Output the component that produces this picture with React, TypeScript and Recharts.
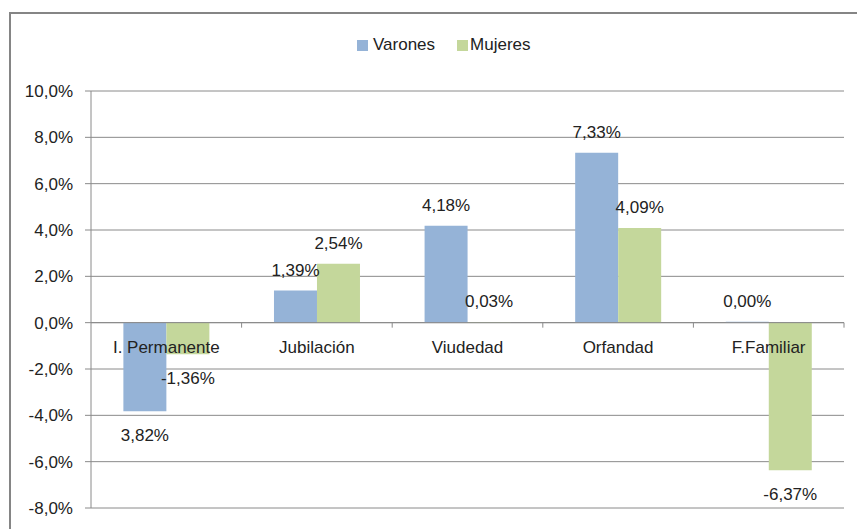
import { Bar, BarChart, CartesianGrid, LabelList, ReferenceLine, XAxis, YAxis } from "recharts";

const categories = ["I. Permanente", "Jubilación", "Viudedad", "Orfandad", "F.Familiar"];
const varones = [-3.82, 1.39, 4.18, 7.33, 0.0];
const mujeres = [-1.36, 2.54, 0.03, 4.09, -6.37];
// data labels as printed on the chart
const varonesLabels = ["3,82%", "1,39%", "4,18%", "7,33%", "0,00%"];
const mujeresLabels = ["-1,36%", "2,54%", "0,03%", "4,09%", "-6,37%"];
const yTicks = [-8, -6, -4, -2, 0, 2, 4, 6, 8, 10];
const seriesNames = ["Varones", "Mujeres"];

const BLUE = "#95B3D7";
const GREEN = "#C4D79B";
const GRID = "#8a8a8a";
const TEXT = "#222";
const FONT = "'Liberation Sans', Arial, sans-serif";

const data = categories.map((name, i) => ({
  name,
  varones: varones[i],
  mujeres: mujeres[i],
  vLabel: varonesLabels[i],
  mLabel: mujeresLabels[i],
}));

const fmtTick = (v: number) => `${v.toFixed(1).replace(".", ",")}%`;

const makeLabel = (values: number[]) => (props: any) => {
  const { x, y, width, height, value, index } = props;
  const top = Math.min(y, y + height);
  const bottom = Math.max(y, y + height);
  const neg = values[index] < 0;
  return (
    <text
      x={x + width / 2}
      y={neg ? bottom + 24 : top - 20}
      textAnchor="middle"
      dominantBaseline="central"
      fill={TEXT}
      fontSize={17}
      fontFamily={FONT}
    >
      {value}
    </text>
  );
};

// category names and boundary ticks drawn along the zero line
const ZeroAxis = (props: any) => {
  const { viewBox } = props;
  const { x, y, width } = viewBox;
  const band = width / categories.length;
  return (
    <g>
      {categories.map((_, i) => (
        <line key={`t${i}`} x1={x + band * (i + 1)} x2={x + band * (i + 1)} y1={y} y2={y + 5} stroke={GRID} />
      ))}
      {categories.map((c, i) => (
        <text
          key={c}
          x={x + band * (i + 0.5)}
          y={y + 25}
          textAnchor="middle"
          dominantBaseline="central"
          fill={TEXT}
          fontSize={17}
          fontFamily={FONT}
        >
          {c}
        </text>
      ))}
    </g>
  );
};

const LegendBox = () => (
  <div
    style={{
      position: "absolute",
      left: 349,
      top: 27,
      display: "flex",
      fontFamily: FONT,
      fontSize: 17,
      color: TEXT,
      lineHeight: "20px",
    }}
  >
    <span style={{ display: "flex", alignItems: "center", marginRight: 22 }}>
      <span style={{ width: 11, height: 11, background: BLUE, marginRight: 5 }} />
      {seriesNames[0]}
    </span>
    <span style={{ display: "flex", alignItems: "center" }}>
      <span style={{ width: 11, height: 11, background: GREEN, marginRight: 2 }} />
      {seriesNames[1]}
    </span>
  </div>
);

export default function App() {
  return (
    <div style={{ position: "relative", width: 857, height: 521 }}>
      <div
        style={{
          position: "absolute",
          left: 1,
          top: 4,
          width: 856,
          height: 517,
          borderTop: "2px solid #858585",
          borderLeft: "2px solid #858585",
          boxSizing: "border-box",
        }}
      />
      <LegendBox />
      <div style={{ position: "absolute", left: 0, top: 0 }}>
        <BarChart
          width={857}
          height={521}
          data={data}
          margin={{ top: 83, right: 21, bottom: 21, left: 13 }}
          barCategoryGap="21.5%"
          barGap={0}
        >
          <CartesianGrid vertical={false} stroke={GRID} />
          <XAxis dataKey="name" hide />
          <YAxis
            domain={[-8, 10]}
            ticks={yTicks}
            interval={0}
            width={70}
            tickFormatter={fmtTick}
            tickSize={6}
            tickMargin={12}
            tickLine={{ stroke: GRID }}
            axisLine={{ stroke: GRID }}
            tick={{ fill: TEXT, fontSize: 17, fontFamily: FONT }}
          />
          <Bar dataKey="varones" name={seriesNames[0]} fill={BLUE} minPointSize={1} isAnimationActive={false}>
            <LabelList dataKey="vLabel" content={makeLabel(varones)} />
          </Bar>
          <Bar dataKey="mujeres" name={seriesNames[1]} fill={GREEN} isAnimationActive={false}>
            <LabelList dataKey="mLabel" content={makeLabel(mujeres)} />
          </Bar>
          <ReferenceLine y={0} stroke={GRID} label={<ZeroAxis />} />
        </BarChart>
      </div>
    </div>
  );
}
